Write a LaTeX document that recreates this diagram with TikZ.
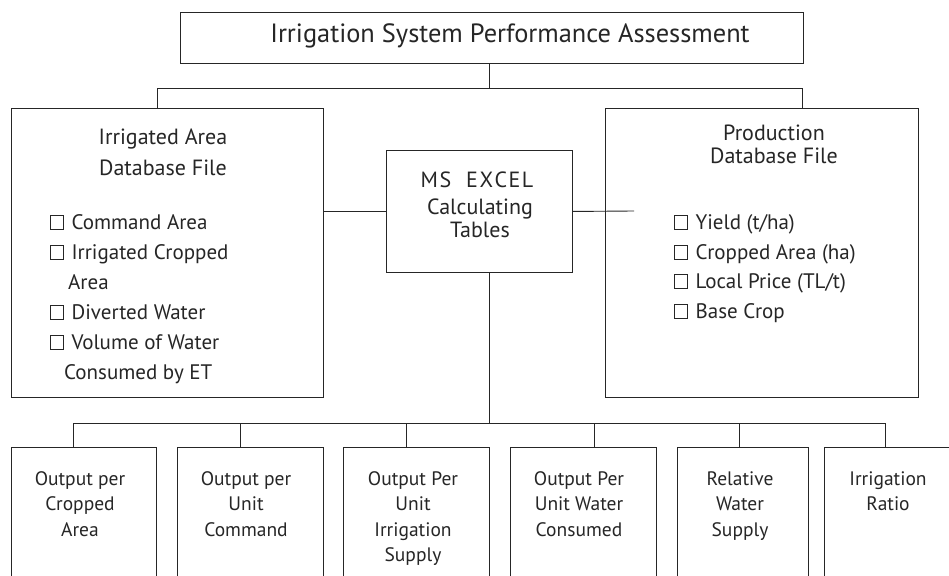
\documentclass[tikz,border=0pt]{standalone}
\usepackage{fontspec}
\setmainfont{PT Sans}
\usetikzlibrary{calc}
% small open square used as a list bullet
\newcommand\listsq{\raisebox{0pt}{\setlength\fboxsep{0pt}\setlength\fboxrule{0.7pt}\fbox{\rule{0pt}{13pt}\rule{12pt}{0pt}}}\hspace{8pt}}
\begin{document}
\begin{tikzpicture}[x=1pt,y=-1pt,
  box/.style={draw=black!85, line width=0.9pt, rectangle, inner sep=0pt, anchor=north west},
  wire/.style={draw=black!85, line width=0.9pt},
  txt/.style={inner sep=0pt, text=black!85, anchor=base},
  txtl/.style={inner sep=0pt, text=black!85, anchor=base west},
  big/.style={font=\fontsize{26.4}{30}\selectfont},
  mid/.style={font=\fontsize{22}{28}\selectfont},
  item/.style={font=\fontsize{21}{28}\selectfont},
  small/.style={font=\fontsize{19.5}{24}\selectfont}]
\clip (0,0) rectangle (949,575);
\fill[white] (0,0) rectangle (949,575);

% boxes
\node[box, minimum width=623pt, minimum height=51pt] (title) at (180,12) {};
\node[box, minimum width=312pt, minimum height=289pt] (area) at (11,108) {};
\node[box, minimum width=313pt, minimum height=289pt] (prod) at (605,108) {};
\node[box, minimum width=186pt, minimum height=122pt] (excel) at (386,150) {};
\node[box, minimum width=145pt, minimum height=160pt] (o1) at (11,447) {};
\node[box, minimum width=146pt, minimum height=160pt] (o2) at (177,447) {};
\node[box, minimum width=146pt, minimum height=160pt] (o3) at (343,447) {};
\node[box, minimum width=146pt, minimum height=160pt] (o4) at (510,447) {};
\node[box, minimum width=131pt, minimum height=160pt] (o5) at (677,447) {};
\node[box, minimum width=160pt, minimum height=160pt] (o6) at (824,447) {};

% texts
\node[txt, big] (t0) at (510,43) {Irrigation System Performance Assessment};

\node[txt, mid] (a1) at (163,144) {Irrigated Area};
\node[txt, mid] (a2) at (163,175) {Database File};
\node[txtl, item] (a3) at (50,229) {\listsq Command Area};
\node[txtl, item] (a4) at (50,259) {\listsq Irrigated Cropped};
\node[txtl, item] (a5) at (68,289) {Area};
\node[txtl, item] (a6) at (50,319) {\listsq Diverted Water};
\node[txtl, item] (a7) at (50,349) {\listsq Volume of Water};
\node[txtl, item] (a8) at (64,379) {Consumed by ET};

\node[txt, mid] (p1) at (774,140) {Production};
\node[txt, mid] (p2) at (774,163) {Database File};
\node[txtl, item] (p3) at (674,229) {\listsq Yield (t/ha)};
\node[txtl, item] (p4) at (674,259) {\listsq Cropped Area (ha)};
\node[txtl, item] (p5) at (674,288) {\listsq Local Price (TL/t)};
\node[txtl, item] (p6) at (674,318) {\listsq Base Crop};

\node[txt, mid] (e1) at (477,187) {M\hspace{1.5pt}S\hspace{15pt}E\hspace{1.5pt}X\hspace{1.5pt}C\hspace{1.5pt}E\hspace{1.5pt}L};
\node[txt, mid] (e2) at (480,214) {Calculating};
\node[txt, mid] (e3) at (480,237) {Tables};

\node[txt, small] (b11) at (80,485) {Output per};
\node[txt, small] (b12) at (80,510) {Cropped};
\node[txt, small] (b13) at (80,536) {Area};
\node[txt, small] (b21) at (246,485) {Output per};
\node[txt, small] (b22) at (246,510) {Unit};
\node[txt, small] (b23) at (246,536) {Command};
\node[txt, small] (b31) at (413,485) {Output Per};
\node[txt, small] (b32) at (413,510) {Unit};
\node[txt, small] (b33) at (413,536) {Irrigation};
\node[txt, small] (b34) at (413,561) {Supply};
\node[txt, small] (b41) at (579,485) {Output Per};
\node[txt, small] (b42) at (579,510) {Unit Water};
\node[txt, small] (b43) at (579,536) {Consumed};
\node[txt, small] (b51) at (740,485) {Relative};
\node[txt, small] (b52) at (740,510) {Water};
\node[txt, small] (b53) at (740,536) {Supply};
\node[txt, small] (b61) at (888,485) {Irrigation};
\node[txt, small] (b62) at (888,510) {Ratio};

% junction points of the connectors
\coordinate (ttop) at (489,88);
\coordinate (tl) at (157,88);
\coordinate (tr) at (802,88);
\coordinate (ebus) at (489,423);
\coordinate (rstub) at (634,211);

% top level branch
\draw[wire] (title.south -| ttop) -- (ttop);
\draw[wire] (area.north -| tl) -- (tl) -- (tr) -- (prod.north -| tr);

% side links to the calculating tables
\draw[wire] (excel.west) -- (excel.west -| area.east);
\draw[wire] (excel.east) -- (rstub);

% lower bus to the indicators
\draw[wire] (excel.south -| ebus) -- (ebus);
\draw[wire] (ebus -| 73,0) -- (ebus -| 885,0);
\foreach \n/\x in {o1/73, o2/240, o3/406, o4/594, o5/739, o6/885}
  \draw[wire] (\x,423) -- (\n.north -| \x,0);
\end{tikzpicture}
\end{document}
